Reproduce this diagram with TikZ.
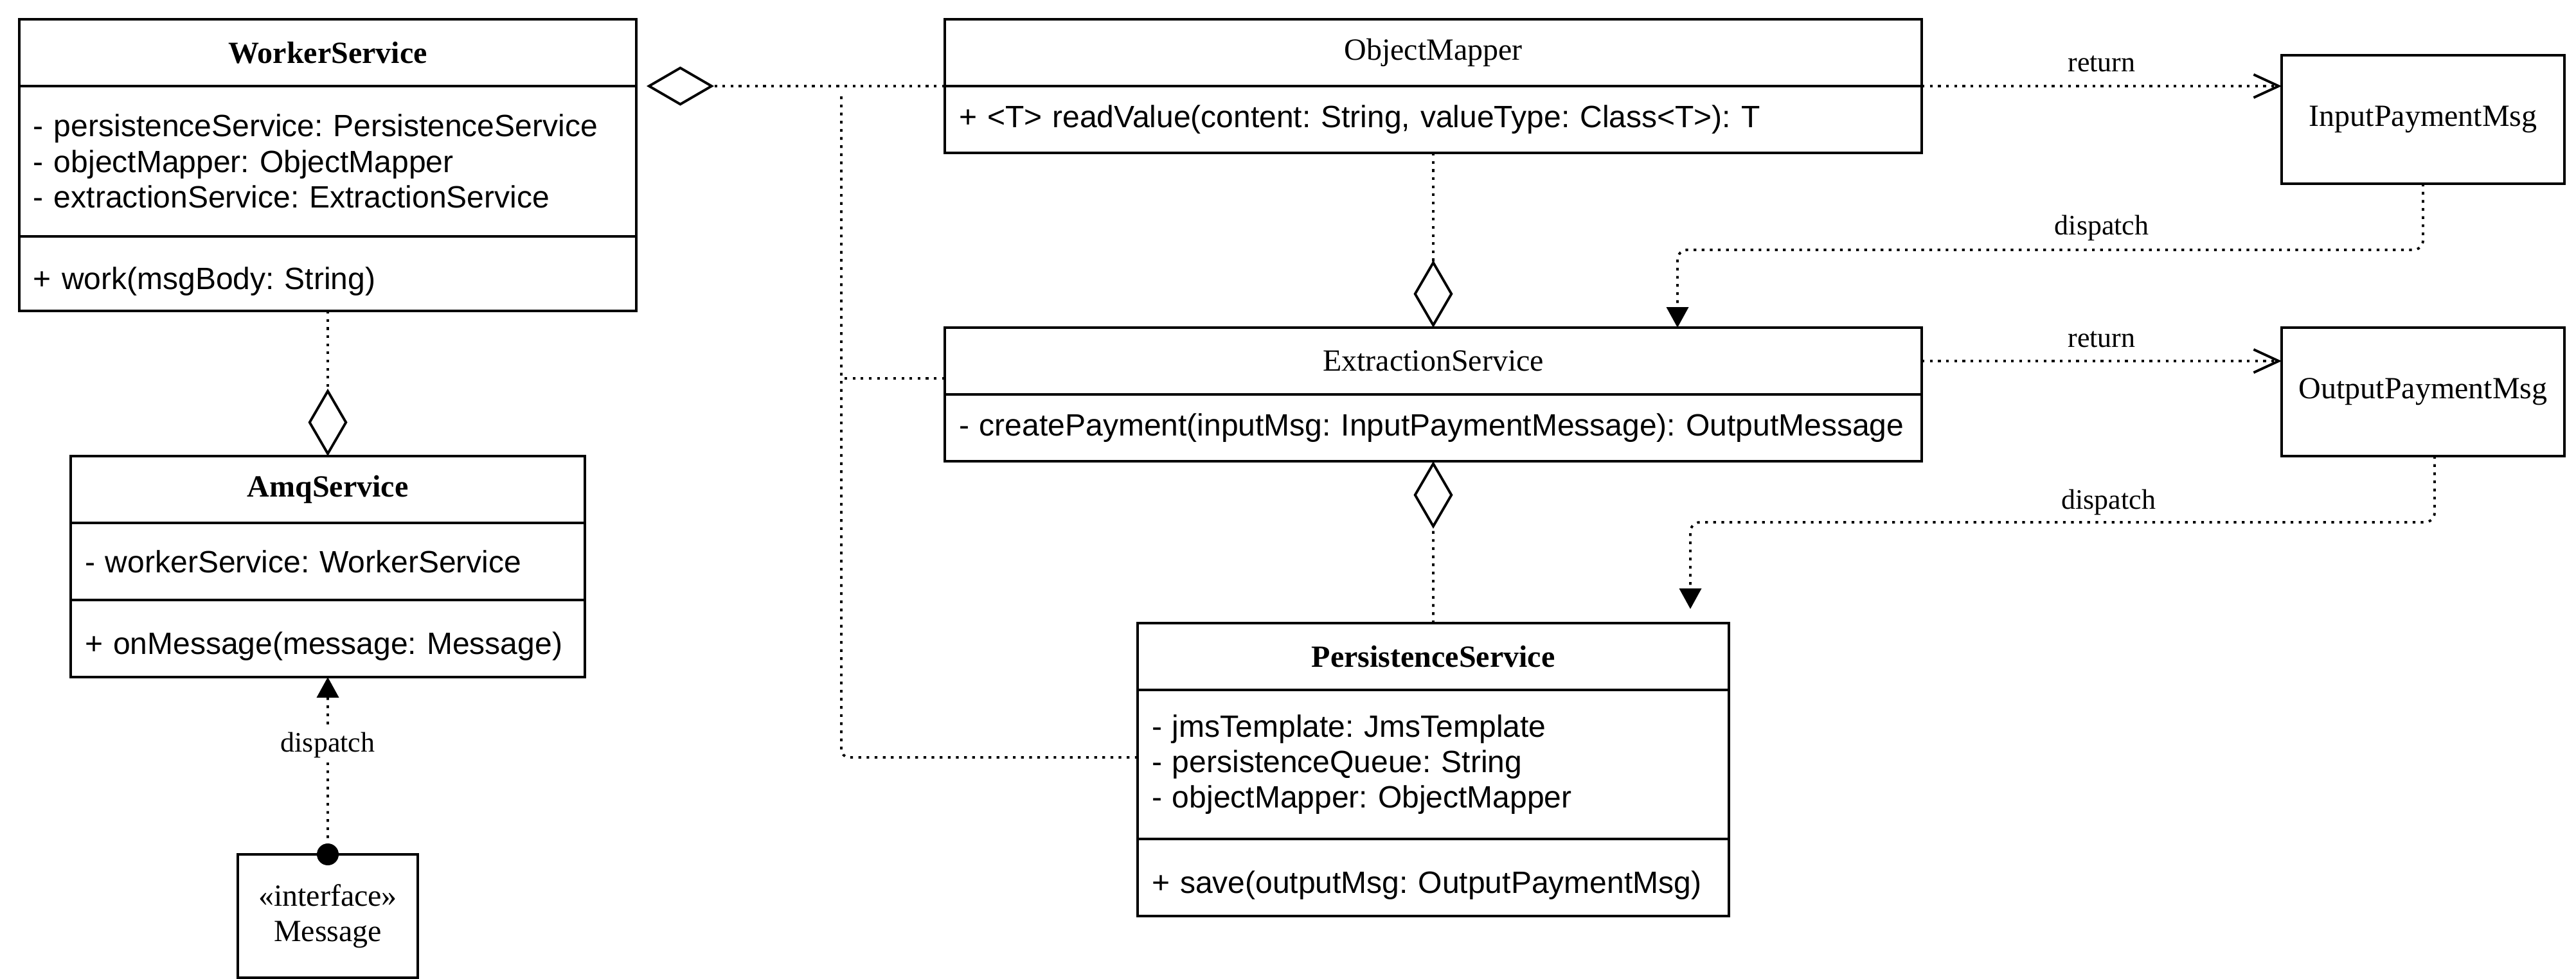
\documentclass[tikz,border=0pt]{standalone}
\usepackage{fontspec}
\setmainfont{Liberation Serif}
\setsansfont{Liberation Sans}
\usepackage{tikz}
\usetikzlibrary{arrows.meta,positioning}
\frenchspacing
\newcommand{\boxfont}{\fontsize{13.66pt}{15.7pt}\selectfont\hyphenpenalty=10000}
\newcommand{\lblfont}{\fontsize{12.5pt}{15pt}\selectfont}

\begin{document}
\begin{tikzpicture}[
            umlbox/.style={draw, line width=1.15pt, outer sep=0pt},
            hdr/.style={umlbox, minimum width=#1, minimum height=1.04cm, font=\boxfont\bfseries},
            plainhdr/.style={umlbox, minimum width=#1, minimum height=1.04cm, font=\boxfont},
            cpart/.style={umlbox, text width=#1, inner xsep=0.22cm, align=left, font=\boxfont\sffamily},
            lowtext/.style={text height=0.59cm, text depth=0.1cm},
            dotline/.style={line width=1.1pt, dash pattern=on 1.2pt off 2.4pt},
            agg/.style={dotline, -{Diamond[open, length=1.05cm, width=0.61cm]}},
            ret/.style={dotline, -{Straight Barb[length=0.39cm, width=0.36cm]}},
            disp/.style={dotline, -{Triangle[length=0.32cm, width=0.34cm]}},
            lbl/.style={font=\lblfont, inner sep=2pt}]
            \useasboundingbox (0,0) rectangle (40.08,-15.24);

            % WorkerService
            \node[hdr=9.6cm, anchor=north west] (wsH) at (0.30,-0.30) {WorkerService};
            \node[cpart=9.16cm, minimum height=2.34cm, below=0pt of wsH] (wsA) {- persistenceService: PersistenceService\\- objectMapper: ObjectMapper\\- extractionService: ExtractionService};
            \node[cpart=9.16cm, lowtext, minimum height=1.16cm, below=0pt of wsA] (wsO) {+ work(msgBody: String)};

            % AmqService and Message
            \node[hdr=8cm, anchor=north west] (amqH) at (1.10,-7.10) {AmqService};
            \node[cpart=7.56cm, minimum height=1.20cm, below=0pt of amqH] (amqA) {- workerService: WorkerService};
            \node[cpart=7.56cm, lowtext, minimum height=1.20cm, below=0pt of amqA] (amqO) {+ onMessage(message: Message)};
            \node[umlbox, font=\boxfont, align=center, minimum width=2.8cm, minimum height=1.92cm, anchor=north west] (msg) at (3.70,-13.30) {«interface»\\Message};

            % ObjectMapper and ExtractionService
            \node[plainhdr=15.2cm, anchor=north west] (omH) at (14.70,-0.30) {ObjectMapper};
            \node[cpart=14.76cm, minimum height=1.04cm, below=0pt of omH] (omO) {+ <T> readValue(content: String, valueType: Class<T>): T};
            \node[plainhdr=15.2cm, anchor=north west] (esH) at (14.70,-5.10) {ExtractionService};
            \node[cpart=14.76cm, minimum height=1.04cm, below=0pt of esH] (esO) {- createPayment(inputMsg: InputPaymentMessage): OutputMessage};

            % PersistenceService
            \node[hdr=9.2cm, anchor=north west] (psH) at (17.70,-9.70) {PersistenceService};
            \node[cpart=8.76cm, minimum height=2.32cm, below=0pt of psH] (psA) {- jmsTemplate: JmsTemplate\\- persistenceQueue: String\\- objectMapper: ObjectMapper};
            \node[cpart=8.76cm, lowtext, minimum height=1.20cm, below=0pt of psA] (psO) {+ save(outputMsg: OutputPaymentMsg)};

            % Messages
            \node[umlbox, font=\boxfont, minimum width=4.4cm, minimum height=2cm, anchor=north west] (inMsg) at (35.50,-0.86) {InputPaymentMsg};
            \node[umlbox, font=\boxfont, minimum width=4.4cm, minimum height=2cm, anchor=north west] (outMsg) at (35.50,-5.10) {OutputPaymentMsg};

            % Aggregations
            \draw[agg] (wsO.south) -- (amqH.north);
            \draw[agg, shorten >=0.16cm] (omH.south west) -- (wsH.south east);
            \draw[agg] (omO.south) -- (esH.north);
            \draw[agg] (psH.north) -- (esO.south);
            \coordinate (trunk) at (13.09,-1.50);
            \draw[dotline, rounded corners=0.12cm] ([yshift=0.11cm]psA.west) -| (trunk);
            \draw[dotline] ([yshift=-0.27cm]esH.west) -- ([yshift=-0.27cm]esH.west -| trunk);

            % Return and dispatch
            \draw[ret] (omH.south east) -- node[lbl, yshift=0.345cm] {return} (omH.south east -| inMsg.west);
            \draw[ret] (esH.east) -- node[lbl, yshift=0.34cm] {return} (esH.east -| outMsg.west);
            \draw[disp, rounded corners=0.15cm] (inMsg.south) -- ++(0,-1.03) -| node[lbl, pos=0.2155, yshift=0.34cm] {dispatch} ([xshift=3.8cm]esH.north);
            \draw[disp, rounded corners=0.15cm, shorten >=0.22cm] ([xshift=0.18cm]outMsg.south) -- ++(0,-1.03) -| node[lbl, pos=0.219, yshift=0.31cm] {dispatch} ([xshift=4cm]psH.north);
            \draw[disp] (msg.north) -- node[lbl, fill=white, pos=0.616] {dispatch} (amqO.south);
            \fill (msg.north) circle (0.17);
        \end{tikzpicture}
\end{document}
